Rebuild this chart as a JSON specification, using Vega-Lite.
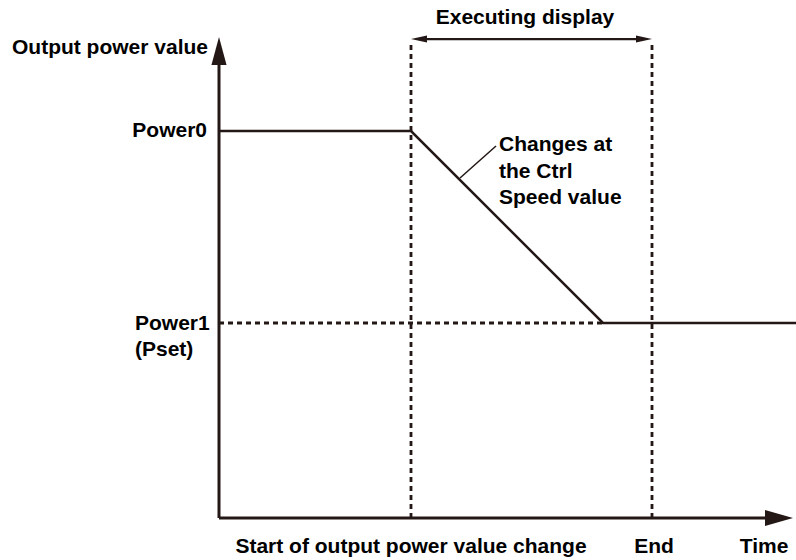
{
  "$schema": "https://vega.github.io/schema/vega-lite/v6.json",
  "width": 796,
  "height": 560,
  "padding": 0,
  "autosize": {"type": "none"},
  "background": "white",
  "config": {"view": {"stroke": null}, "text": {"font": "Liberation Sans", "fontWeight": "bold", "fontSize": 21, "fill": "#000000"}},
  "datasets": {
    "power": [
      {"t": 219, "p": 429},
      {"t": 411, "p": 429},
      {"t": 603, "p": 237},
      {"t": 798, "p": 237}
    ],
    "solidRules": [
      {"t": 219, "p": 42, "t2": 219, "p2": 505, "w": "axis"},
      {"t": 219, "p": 42, "t2": 772, "p2": 42, "w": "axis"},
      {"t": 420, "p": 521, "t2": 644, "p2": 521, "w": "span"},
      {"t": 460, "p": 382, "t2": 496, "p2": 414, "w": "leader"}
    ],
    "dashedRules": [
      {"t": 411, "p": 42, "t2": 411, "p2": 518},
      {"t": 652, "p": 42, "t2": 652, "p2": 518},
      {"t": 219, "p": 237, "t2": 603, "p2": 237}
    ],
    "labelsRight": [
      {"t": 208, "p": 512, "label": "Output power value"},
      {"t": 207, "p": 429, "label": "Power0"}
    ],
    "labelsLeft": [
      {"t": 135, "p": 236, "label": "Power1"},
      {"t": 135, "p": 210, "label": "(Pset)"},
      {"t": 499, "p": 415, "label": "Changes at"},
      {"t": 499, "p": 388, "label": "the Ctrl"},
      {"t": 499, "p": 362, "label": "Speed value"}
    ],
    "labelsCenter": [
      {"t": 525, "p": 542, "label": "Executing display"},
      {"t": 411, "p": 13, "label": "Start of output power value change"},
      {"t": 654, "p": 13, "label": "End"},
      {"t": 764, "p": 13, "label": "Time"}
    ]
  },
  "encoding": {
    "x": {"field": "t", "type": "quantitative", "scale": {"domain": [0, 796], "nice": false, "zero": false}, "axis": null},
    "y": {"field": "p", "type": "quantitative", "scale": {"domain": [0, 560], "nice": false, "zero": false}, "axis": null}
  },
  "layer": [
    {
      "data": {"name": "dashedRules"},
      "mark": {"type": "rule", "color": "#231815", "strokeWidth": 2.8, "strokeDash": [5, 4]},
      "encoding": {"x2": {"field": "t2"}, "y2": {"field": "p2"}}
    },
    {
      "data": {"name": "solidRules"},
      "mark": {"type": "rule", "color": "#231815"},
      "encoding": {
        "x2": {"field": "t2"},
        "y2": {"field": "p2"},
        "strokeWidth": {"field": "w", "type": "nominal", "scale": {"domain": ["axis", "span", "leader"], "range": [3, 1.5, 1.2]}, "legend": null}
      }
    },
    {
      "data": {"name": "power"},
      "mark": {"type": "line", "color": "#231815", "strokeWidth": 2.5}
    },
    {
      "data": {"values": [{"t": 219, "p": 509}]},
      "mark": {"type": "point", "filled": true, "opacity": 1, "color": "#231815", "strokeWidth": 0, "size": 784, "shape": "M0,-1L0.54,1L-0.54,1Z"}
    },
    {
      "data": {"values": [{"t": 779, "p": 42}]},
      "mark": {"type": "point", "filled": true, "opacity": 1, "color": "#231815", "strokeWidth": 0, "size": 784, "shape": "M1,0L-1,0.57L-1,-0.57Z"}
    },
    {
      "data": {"values": [{"t": 419, "p": 521}]},
      "mark": {"type": "point", "filled": true, "opacity": 1, "color": "#231815", "strokeWidth": 0, "size": 256, "shape": "M-1,0L1,0.45L1,-0.45Z"}
    },
    {
      "data": {"values": [{"t": 644, "p": 521}]},
      "mark": {"type": "point", "filled": true, "opacity": 1, "color": "#231815", "strokeWidth": 0, "size": 256, "shape": "M1,0L-1,0.45L-1,-0.45Z"}
    },
    {
      "data": {"name": "labelsRight"},
      "mark": {"type": "text", "align": "right", "baseline": "middle"},
      "encoding": {"text": {"field": "label"}}
    },
    {
      "data": {"name": "labelsLeft"},
      "mark": {"type": "text", "align": "left", "baseline": "middle"},
      "encoding": {"text": {"field": "label"}}
    },
    {
      "data": {"name": "labelsCenter"},
      "mark": {"type": "text", "align": "center", "baseline": "middle"},
      "encoding": {"text": {"field": "label"}}
    }
  ]
}
